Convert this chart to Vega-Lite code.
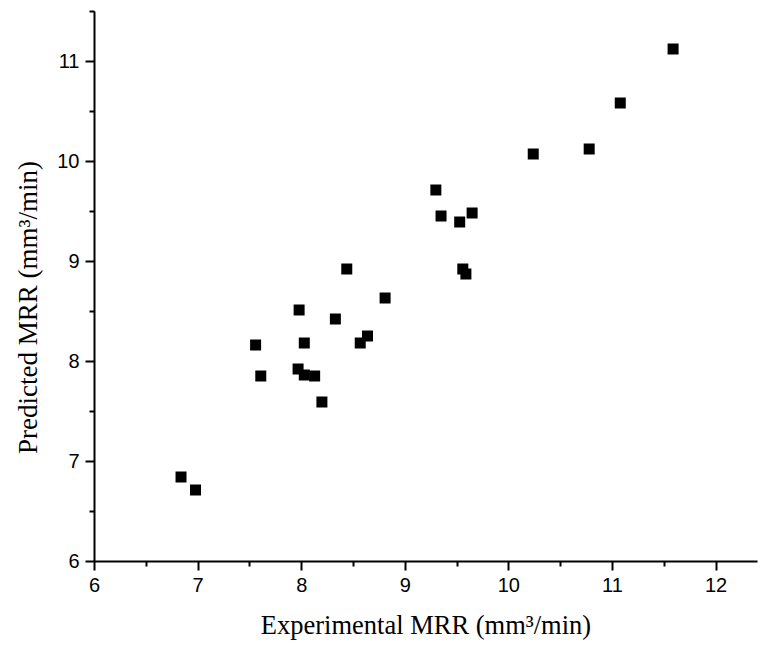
{
  "$schema": "https://vega.github.io/schema/vega-lite/v6.json",
  "autosize": "none",
  "width": 663,
  "height": 550,
  "padding": {"left": 94, "top": 11, "right": 3, "bottom": 87},
  "background": "white",
  "config": {"view": {"stroke": null}},
  "data": {"values": [
    {"exp": 6.84, "pred": 6.84},
    {"exp": 6.98, "pred": 6.71},
    {"exp": 7.56, "pred": 8.16},
    {"exp": 7.61, "pred": 7.85},
    {"exp": 7.97, "pred": 7.92},
    {"exp": 7.98, "pred": 8.51},
    {"exp": 8.03, "pred": 8.18},
    {"exp": 8.03, "pred": 7.86},
    {"exp": 8.13, "pred": 7.85},
    {"exp": 8.20, "pred": 7.59},
    {"exp": 8.33, "pred": 8.42},
    {"exp": 8.44, "pred": 8.92},
    {"exp": 8.57, "pred": 8.18},
    {"exp": 8.64, "pred": 8.25},
    {"exp": 8.81, "pred": 8.63},
    {"exp": 9.30, "pred": 9.71},
    {"exp": 9.35, "pred": 9.45},
    {"exp": 9.53, "pred": 9.39},
    {"exp": 9.56, "pred": 8.92},
    {"exp": 9.59, "pred": 8.87},
    {"exp": 9.65, "pred": 9.48},
    {"exp": 10.24, "pred": 10.07},
    {"exp": 10.78, "pred": 10.12},
    {"exp": 11.08, "pred": 10.58},
    {"exp": 11.59, "pred": 11.12}
  ]},
  "resolve": {"axis": {"x": "independent", "y": "independent"}},
  "layer": [
    {
      "mark": {"type": "point", "shape": "square", "filled": true, "color": "black", "size": 121, "opacity": 1},
      "encoding": {
        "x": {"field": "exp", "type": "quantitative",
          "scale": {"domain": [6, 12.4], "nice": false, "zero": false},
          "axis": {"orient": "bottom", "values": [6,7,8,9,10,11,12], "grid": false,
            "title": "Experimental MRR (mm³/min)", "titleFont": "Liberation Serif", "titleFontSize": 26.5,
            "titleFontWeight": "normal", "titleColor": "black", "titlePadding": 17,
            "labelFont": "Liberation Sans", "labelFontSize": 20, "labelColor": "black", "labelPadding": 5,
            "domainColor": "black", "domainWidth": 2, "tickColor": "black", "tickWidth": 2, "tickSize": 9, "labelFlush": false}},
        "y": {"field": "pred", "type": "quantitative",
          "scale": {"domain": [6, 11.5], "nice": false, "zero": false},
          "axis": {"orient": "left", "values": [6,7,8,9,10,11], "grid": false,
            "title": "Predicted MRR (mm³/min)", "titleFont": "Liberation Serif", "titleFontSize": 27,
            "titleFontWeight": "normal", "titleColor": "black", "titlePadding": 14, "titleY": 296,
            "labelFont": "Liberation Sans", "labelFontSize": 20, "labelColor": "black", "labelPadding": 6,
            "domainColor": "black", "domainWidth": 2, "tickColor": "black", "tickWidth": 2, "tickSize": 9, "labelFlush": false}}
      }
    },
    {
      "mark": {"type": "point", "opacity": 0},
      "encoding": {
        "x": {"field": "exp", "type": "quantitative",
          "scale": {"domain": [6, 12.4], "nice": false, "zero": false},
          "axis": {"orient": "bottom", "values": [6.5,7.5,8.5,9.5,10.5,11.5], "grid": false, "labels": false, "title": null,
            "domain": false, "tickColor": "black", "tickWidth": 2, "tickSize": 5}},
        "y": {"field": "pred", "type": "quantitative",
          "scale": {"domain": [6, 11.5], "nice": false, "zero": false},
          "axis": {"orient": "left", "values": [6.5,7.5,8.5,9.5,10.5,11.5], "grid": false, "labels": false, "title": null,
            "domain": false, "tickColor": "black", "tickWidth": 2, "tickSize": 5}}
      }
    }
  ]
}
